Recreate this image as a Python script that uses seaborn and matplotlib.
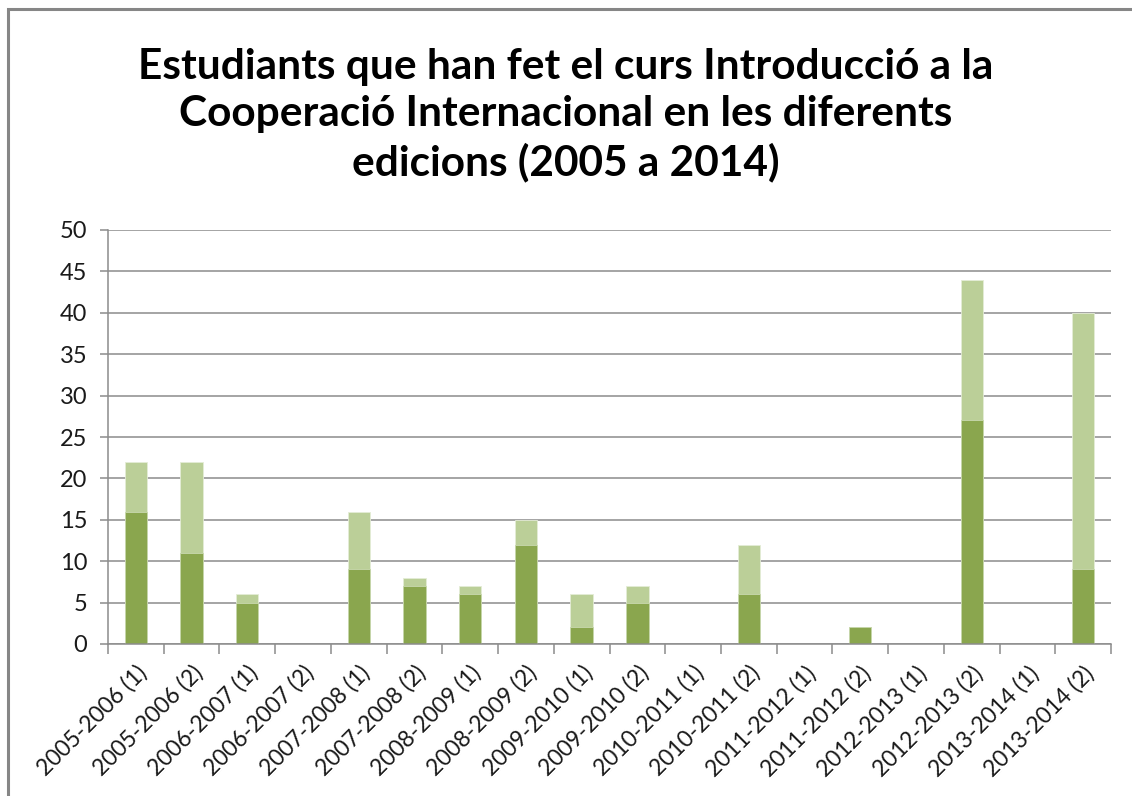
import numpy as np
import pandas as pd
import matplotlib
matplotlib.use('Agg')
import matplotlib.pyplot as plt
import seaborn as sns
from matplotlib.patches import Rectangle

# Data
edicions = ['2005-2006 (1)', '2005-2006 (2)', '2006-2007 (1)', '2006-2007 (2)',
            '2007-2008 (1)', '2007-2008 (2)', '2008-2009 (1)', '2008-2009 (2)',
            '2009-2010 (1)', '2009-2010 (2)', '2010-2011 (1)', '2010-2011 (2)',
            '2011-2012 (1)', '2011-2012 (2)', '2012-2013 (1)', '2012-2013 (2)',
            '2013-2014 (1)', '2013-2014 (2)']
serie1 = [16, 11, 5, 0, 9, 7, 6, 12, 2, 5, 0, 6, 0, 2, 0, 27, 0, 9]
serie2 = [6, 11, 1, 0, 7, 1, 1, 3, 4, 2, 0, 6, 0, 0, 0, 17, 0, 31]
yticks = [0, 5, 10, 15, 20, 25, 30, 35, 40, 45, 50]

title = ("Estudiants que han fet el curs Introducció a la\n"
         "Cooperació Internacional en les diferents\n"
         "edicions (2005 a 2014)")

dark_green = '#8AA64E'
light_green = '#BBCF98'
grid_gray = '#8C8C8C'

df = pd.DataFrame({'edicio': edicions, 's1': serie1, 's2': serie2})
df['total'] = df['s1'] + df['s2']

sns.set_theme(style='white')
plt.rcParams['font.family'] = ['Lato', 'DejaVu Sans']

fig = plt.figure(figsize=(11.32, 7.96), dpi=100)
ax = fig.add_axes([108 / 1132, 1 - 644 / 796, (1111 - 108) / 1132, (644 - 230) / 796])

# stacked bars: total (light) behind, first series (dark) in front
sns.barplot(data=df, x='edicio', y='total', color=light_green, saturation=1,
            width=0.4, ax=ax, edgecolor='#E4ECD6', linewidth=0.6)
sns.barplot(data=df, x='edicio', y='s1', color=dark_green, saturation=1,
            width=0.4, ax=ax, edgecolor='#C9D8AE', linewidth=0.6)

ax.set_xlim(-0.5, len(edicions) - 0.5)
ax.set_ylim(0, 50)
ax.set_yticks(yticks)
ax.yaxis.grid(True, color=grid_gray, linewidth=1.1)
ax.set_axisbelow(True)
ax.set_xlabel('')
ax.set_ylabel('')

for side in ['top', 'right']:
    ax.spines[side].set_visible(False)
for side in ['left', 'bottom']:
    ax.spines[side].set_color(grid_gray)
    ax.spines[side].set_linewidth(1.1)

ax.tick_params(axis='y', which='major', length=6, width=1.1, color=grid_gray,
               labelsize=17, labelcolor='#1a1a1a', pad=9, left=True)
ax.set_xticks(np.arange(len(edicions)))
ax.set_xticklabels(edicions, rotation=45, ha='right', rotation_mode='anchor',
                   fontsize=16.5, color='#1a1a1a')
ax.tick_params(axis='x', which='major', length=0, pad=13)
ax.set_xticks(np.arange(-0.5, len(edicions)), minor=True)
ax.tick_params(axis='x', which='minor', length=7, width=1.1, color=grid_gray,
               bottom=True)

fig.text(0.5, 1 - 115 / 796, title, ha='center', va='center', fontsize=30.5,
         fontweight='bold', color='black', linespacing=1.3)

# chart area border
fig.patches.append(Rectangle((8 / 1132, -0.1), 1.2, 1.1 - 9 / 796,
                             transform=fig.transFigure, fill=False,
                             edgecolor='#868686', linewidth=2.2))

fig.savefig('out.png', dpi=100, facecolor='white')
